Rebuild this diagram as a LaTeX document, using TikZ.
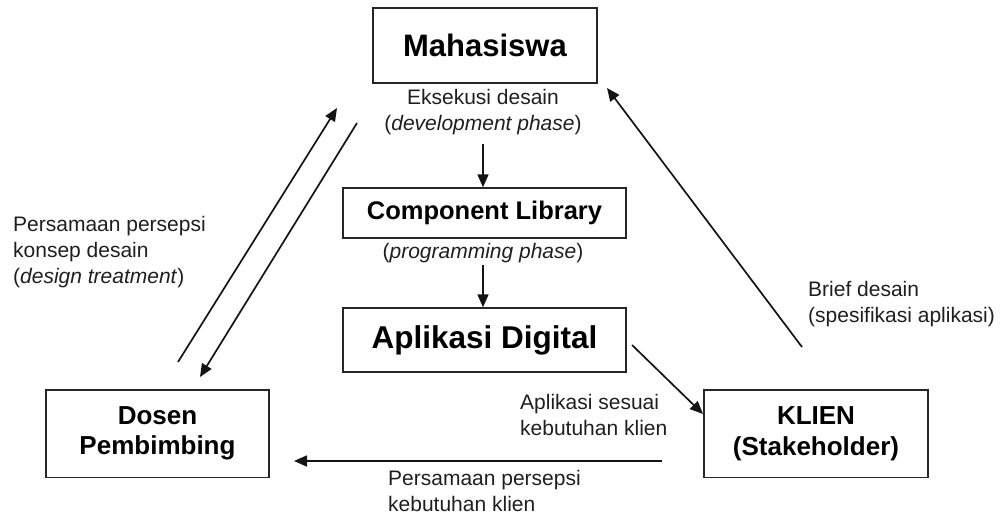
\documentclass[tikz,border=0pt]{standalone}
\usepackage{fontspec}
\setmainfont{Liberation Sans}
\usetikzlibrary{arrows.meta}
\begin{document}
\begin{tikzpicture}[x=1pt,y=-1pt,
  box/.style={draw=black!85,line width=1.3pt,rectangle,inner sep=0pt,align=center,font=\bfseries},
  lab/.style={inner sep=0pt,font=\fontsize{21}{26}\selectfont,text=black!88},
  arr/.style={draw=black!92,line width=1.7pt,-{Triangle[length=13pt,width=11pt]}}]
\useasboundingbox (0,0) rectangle (1002,514);
% boxes
\node[box,minimum width=224pt,minimum height=75pt,font=\bfseries\fontsize{31}{36}\selectfont] (mhs) at (485,45.5) {Mahasiswa};
\node[box,minimum width=283pt,minimum height=50pt,font=\bfseries\fontsize{25.5}{30}\selectfont] (cl) at (484.5,213) {Component Library};
\node[box,minimum width=283pt,minimum height=64pt,font=\bfseries\fontsize{31.5}{36}\selectfont] (ad) at (484.5,340) {Aplikasi Digital};
\node[box,minimum width=223pt,minimum height=87.5pt,font=\bfseries\fontsize{26}{30}\selectfont] (dsn) at (157.5,433.75) {Dosen\\Pembimbing};
\node[box,minimum width=224pt,minimum height=87.5pt,font=\bfseries\fontsize{26}{31}\selectfont] (kl) at (816,433.75) {KLIEN\\(Stakeholder)};
% labels
\node[lab,align=center] (l1) at (483,112) {Eksekusi desain\\(\textit{development phase})};
\node[lab,align=center] (l2) at (483,253) {(\textit{programming phase})};
\node[lab,align=left,anchor=west] (l3) at (13,252.5) {Persamaan persepsi\\konsep desain\\(\textit{design treatment})};
\node[lab,align=left,anchor=west] (l4) at (808,304) {Brief desain\\(spesifikasi aplikasi)};
\node[lab,align=left,anchor=west] (l5) at (520,414.5) {Aplikasi sesuai\\kebutuhan klien};
\node[lab,align=left,anchor=west] (l6) at (388,491) {Persamaan persepsi\\kebutuhan klien};
% connector end points
\coordinate (a1s) at (483,144);
\coordinate (a2s) at (483,265);
\coordinate (a3s) at (632,345);
\coordinate (a3e) at (703,414);
\coordinate (a4s) at (802,347);
\coordinate (a4e) at (607,88);
\coordinate (a5s) at (178,362);
\coordinate (a5e) at (337,108);
\coordinate (a6s) at (357,123);
\coordinate (a6e) at (200,377);
\coordinate (a7s) at (662,461);
\coordinate (a7e) at (294,461);
% connectors
\draw[arr] (a1s) -- (a1s |- cl.north);
\draw[arr] (a2s) -- (a2s |- ad.north);
\draw[arr] (a3s) -- (a3e);
\draw[arr] (a4s) -- (a4e);
\draw[arr] (a5s) -- (a5e);
\draw[arr] (a6s) -- (a6e);
\draw[arr] (a7s) -- (a7e);
\end{tikzpicture}
\end{document}
